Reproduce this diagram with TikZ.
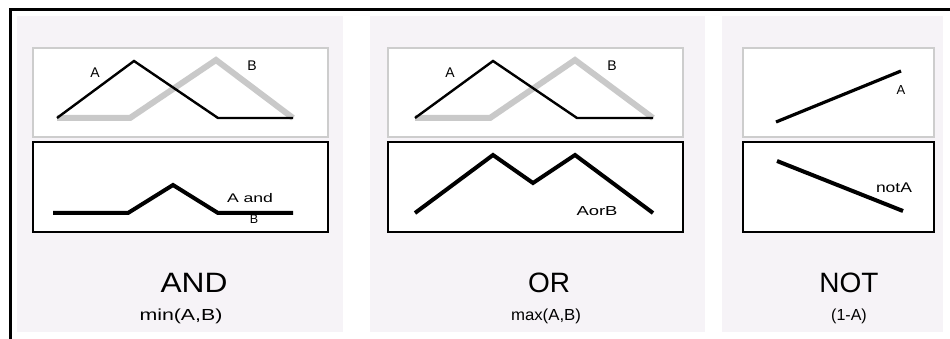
\documentclass[tikz,border=0pt]{standalone}
\usepackage{fontspec}
\setmainfont{Liberation Sans}
\usepackage{graphicx}
\definecolor{panelbg}{HTML}{F6F3F7}
\definecolor{curvegrey}{HTML}{C9C9C9}
\definecolor{boxgrey}{HTML}{CDCDCD}
% stretch a text to a given width, keeping its height
\newcommand{\wide}[2]{\resizebox{#1pt}{\height}{#2}}
\tikzset{
  panel/.style={fill=panelbg, draw=none},
  inbox/.style={fill=white, draw=boxgrey, line width=1.8pt},
  outbox/.style={fill=white, draw=black, line width=1.1pt},
  curveA/.style={draw=black, line width=2.4pt, line join=miter},
  curveB/.style={draw=curvegrey, line width=6pt, line join=miter},
  result/.style={draw=black, line width=4pt, line join=miter},
  lbl/.style={inner sep=0pt, text=black},
  title/.style={inner sep=0pt, font=\fontsize{28}{30}\selectfont},
  formula/.style={inner sep=0pt, font=\fontsize{16}{18}\selectfont},
}
\begin{document}
\begin{tikzpicture}[x=1pt, y=-1pt]
\useasboundingbox (0,0) rectangle (950,339);
\fill[white] (0,0) rectangle (950,339);

% three background panels
\path[panel] (17,16) rectangle (343,332);
\path[panel] (370,16) rectangle (705,332);
\path[panel] (722,16) rectangle (943,332);

% outer frame (top and left sides)
\draw[line width=2.5pt] (10.5,339) -- (10.5,9.5) -- (950,9.5);

% ---------- AND ----------
\path[inbox]  (33,48) rectangle (328,137);
\path[outbox] (33,142) rectangle (328,232);
\draw[curveB] (57,118) -- (130,118) -- (216,60) -- (293,118);
\draw[curveA] (57,118) -- (134,61) -- (218,118) -- (293,118);
\node[lbl, font=\fontsize{14}{16}\selectfont] (andA) at (95,73) {A};
\node[lbl, font=\fontsize{14}{16}\selectfont] (andB) at (252,66) {B};
\node[lbl, font=\fontsize{12.5}{14}\selectfont] (andlbl) at (250,198) {\wide{46}{A and}};
\node[lbl, font=\fontsize{12.5}{14}\selectfont] (andlblB) at (254,219) {B};
\draw[result] (53,213) -- (128,213) -- (173,185) -- (218,213) -- (293,213);
\node[title] (andT) at (194,283) {\wide{67}{AND}};
\node[formula] (andF) at (181,316) {\wide{83}{min(A,B)}};

% ---------- OR ----------
\path[inbox]  (388,48) rectangle (683,137);
\path[outbox] (388,142) rectangle (683,232);
\draw[curveB] (415,118) -- (490,118) -- (575,60) -- (653,118);
\draw[curveA] (415,118) -- (493,61) -- (577,118) -- (653,118);
\node[lbl, font=\fontsize{14}{16}\selectfont] (orA) at (450,73) {A};
\node[lbl, font=\fontsize{14}{16}\selectfont] (orB) at (612,66) {B};
\draw[result] (415,213) -- (493,155) -- (533,183) -- (575,155) -- (653,213);
\node[lbl, font=\fontsize{13}{14}\selectfont] (orlbl) at (597,211) {\wide{41}{AorB}};
\node[title] (orT) at (549,283) {OR};
\node[formula] (orF) at (546,316) {\wide{70}{max(A,B)}};

% ---------- NOT ----------
\path[inbox]  (743,48) rectangle (934,137);
\path[outbox] (743,142) rectangle (934,232);
\draw[black, line width=3.2pt] (776,122) -- (901,71);
\node[lbl, font=\fontsize{13}{14}\selectfont] (notA) at (901,90) {A};
\draw[black, line width=4pt] (777,161) -- (903,211);
\node[lbl, font=\fontsize{14}{16}\selectfont] (notlbl) at (894,188) {\wide{36}{notA}};
\node[title] (notT) at (849,283) {NOT};
\node[formula] (notF) at (849,316) {(1-A)};
\end{tikzpicture}
\end{document}
